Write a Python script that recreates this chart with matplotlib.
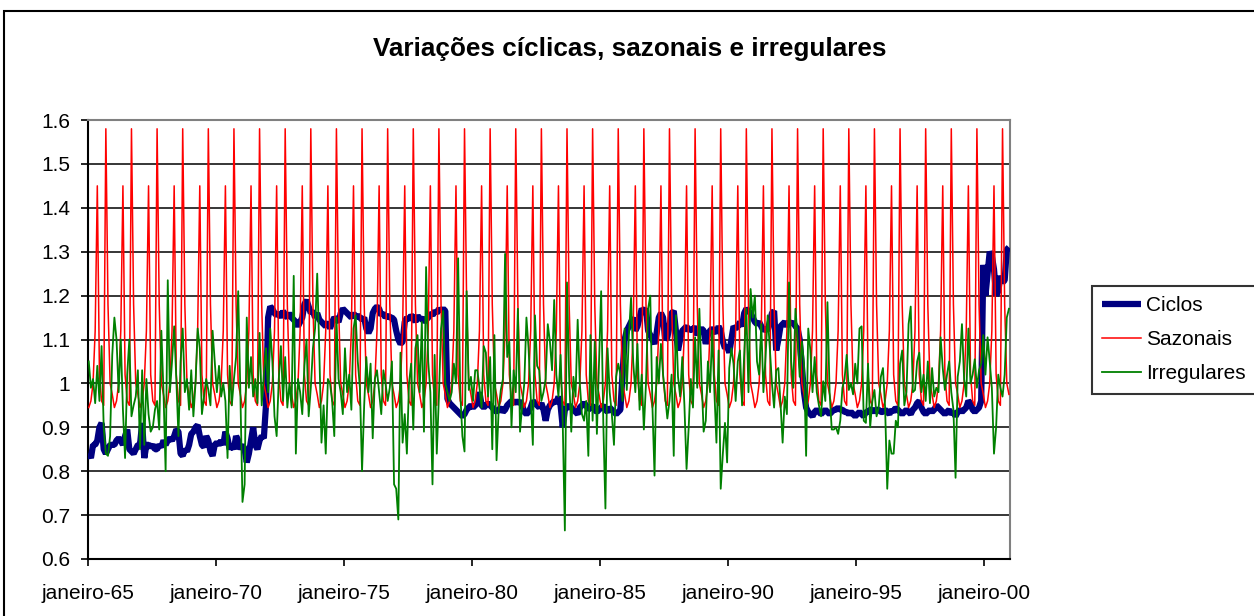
import matplotlib
matplotlib.use("Agg")
import matplotlib.pyplot as plt
import numpy as np
from matplotlib.patches import Rectangle

plt.rcParams['font.family'] = ['Liberation Sans', 'DejaVu Sans']

# rótulos do eixo x (um a cada 60 meses, jan/1965 .. dez/2000)
rotulos_x = ['janeiro-65', 'janeiro-70', 'janeiro-75', 'janeiro-80',
             'janeiro-85', 'janeiro-90', 'janeiro-95', 'janeiro-00']

# componente ciclica (um ano por linha)
ciclos = [
    0.84, 0.83, 0.86, 0.86, 0.87, 0.90, 0.91, 0.85, 0.84, 0.85, 0.86, 0.86,
    0.86, 0.87, 0.875, 0.87, 0.86, 0.88, 0.895, 0.85, 0.845, 0.84, 0.85, 0.86,
    0.86, 0.91, 0.83, 0.86, 0.86, 0.855, 0.86, 0.85, 0.85, 0.86, 0.855, 0.87,
    0.86, 0.87, 0.875, 0.87, 0.88, 0.895, 0.89, 0.84, 0.835, 0.85, 0.845, 0.86,
    0.885, 0.89, 0.90, 0.905, 0.88, 0.86, 0.855, 0.88, 0.87, 0.845, 0.835, 0.86,
    0.865, 0.86, 0.87, 0.86, 0.89, 0.875, 0.85, 0.86, 0.85, 0.88, 0.87, 0.85,
    0.86, 0.85, 0.82, 0.84, 0.87, 0.90, 0.86, 0.85, 0.87, 0.88, 0.875, 0.95,
    1.15, 1.175, 1.17, 1.16, 1.155, 1.16, 1.15, 1.165, 1.155, 1.15, 1.16, 1.15,
    1.145, 1.14, 1.13, 1.14, 1.15, 1.18, 1.19, 1.175, 1.16, 1.165, 1.15, 1.16,
    1.145, 1.14, 1.135, 1.13, 1.14, 1.125, 1.14, 1.15, 1.145, 1.14, 1.16, 1.17,
    1.165, 1.16, 1.155, 1.15, 1.16, 1.15, 1.155, 1.15, 1.145, 1.15, 1.125, 1.115,
    1.125, 1.16, 1.17, 1.175, 1.17, 1.155, 1.16, 1.15, 1.155, 1.15, 1.15, 1.145,
    1.12, 1.10, 1.09, 1.095, 1.14, 1.15, 1.145, 1.155, 1.15, 1.14, 1.155, 1.145,
    1.15, 1.14, 1.145, 1.15, 1.16, 1.155, 1.165, 1.16, 1.17, 1.165, 1.17, 1.165,
    0.965, 0.955, 0.95, 0.945, 0.94, 0.935, 0.93, 0.925, 0.93, 0.94, 0.945, 0.95,
    0.945, 0.95, 0.955, 0.98, 0.95, 0.945, 0.95, 0.955, 0.95, 0.945, 0.94, 0.935,
    0.94, 0.945, 0.935, 0.94, 0.95, 0.955, 0.96, 0.955, 0.96, 0.955, 0.96, 0.95,
    0.935, 0.93, 0.935, 0.945, 0.96, 0.955, 0.95, 0.945, 0.955, 0.94, 0.915, 0.94,
    0.95, 0.955, 0.96, 0.955, 0.97, 0.95, 0.90, 0.94, 0.945, 0.95, 0.945, 0.94,
    0.935, 0.93, 0.945, 0.95, 0.955, 0.95, 0.94, 0.945, 0.95, 0.94, 0.935, 0.94,
    0.945, 0.95, 0.94, 0.935, 0.945, 0.94, 0.935, 0.93, 0.935, 0.94, 1.02, 1.10,
    1.12, 1.13, 1.14, 1.15, 1.12, 1.13, 1.15, 1.17, 1.165, 1.17, 1.12, 1.11,
    1.10, 1.09, 1.115, 1.15, 1.16, 1.15, 1.10, 1.105, 1.13, 1.16, 1.165, 1.12,
    1.075, 1.10, 1.12, 1.125, 1.13, 1.12, 1.125, 1.12, 1.13, 1.11, 1.12, 1.125,
    1.12, 1.09, 1.11, 1.12, 1.125, 1.12, 1.115, 1.13, 1.12, 1.095, 1.08, 1.085,
    1.07, 1.10, 1.13, 1.125, 1.13, 1.14, 1.13, 1.16, 1.17, 1.165, 1.16, 1.15,
    1.14, 1.135, 1.14, 1.13, 1.12, 1.125, 1.12, 1.14, 1.16, 1.165, 1.075, 1.10,
    1.13, 1.135, 1.14, 1.13, 1.14, 1.135, 1.14, 1.13, 1.125, 1.10, 1.04, 0.98,
    0.945, 0.935, 0.93, 0.925, 0.935, 0.94, 0.935, 0.93, 0.935, 0.94, 0.935, 0.93,
    0.935, 0.94, 0.94, 0.945, 0.94, 0.94, 0.935, 0.935, 0.93, 0.935, 0.93, 0.925,
    0.93, 0.935, 0.93, 0.925, 0.935, 0.935, 0.94, 0.94, 0.935, 0.94, 0.94, 0.935,
    0.935, 0.94, 0.935, 0.93, 0.94, 0.935, 0.945, 0.94, 0.935, 0.93, 0.935, 0.94,
    0.935, 0.93, 0.94, 0.945, 0.955, 0.96, 0.945, 0.935, 0.93, 0.935, 0.94, 0.935,
    0.94, 0.95, 0.945, 0.94, 0.935, 0.93, 0.935, 0.94, 0.93, 0.935, 0.925, 0.935,
    0.94, 0.935, 0.94, 0.945, 0.96, 0.955, 0.94, 0.935, 0.94, 0.945, 0.96, 1.27,
    1.20, 1.25, 1.30, 1.29, 1.26, 1.20, 1.21, 1.245, 1.23, 1.235, 1.305, 1.31,
]

# fatores sazonais jan..dez (se repetem todo ano)
sazonal_ano = [0.945, 0.96, 1.0, 1.12, 1.45, 1.02, 0.96, 0.95, 1.58, 1.18, 1.0, 0.975]
sazonais = sazonal_ano * 36

# componente irregular
irregulares = [
    1.05, 0.99, 1.01, 0.955, 1.04, 0.96, 1.085, 0.90, 0.84, 0.835, 0.88, 1.065,
    1.15, 1.10, 0.98, 1.10, 0.94, 0.83, 1.02, 1.10, 0.925, 0.95, 0.97, 1.03,
    0.85, 1.03, 0.86, 1.01, 0.93, 0.89, 0.90, 0.94, 0.96, 0.895, 1.12, 0.98,
    0.80, 1.235, 0.98, 1.05, 1.13, 1.01, 0.88, 1.05, 1.125, 0.98, 1.01, 0.94,
    1.03, 0.925, 1.0, 1.125, 1.08, 0.93, 0.97, 1.01, 0.985, 0.95, 1.12, 1.05,
    0.98, 1.04, 0.97, 1.0, 0.96, 0.83, 1.04, 0.95, 1.01, 1.06, 1.21, 0.98,
    0.73, 0.77, 1.15, 0.99, 1.06, 0.97, 1.01, 0.955, 1.115, 0.95, 1.02, 1.08,
    0.98, 1.125, 1.05, 0.925, 0.88, 1.01, 1.085, 0.96, 1.06, 0.945, 1.0, 0.945,
    1.245, 0.84, 1.01, 0.98, 0.93, 1.04, 1.1, 0.925, 0.99, 1.08, 1.125, 1.25,
    1.07, 0.865, 0.95, 0.84, 1.01, 1.0, 0.96, 0.88, 1.15, 1.01, 0.98, 0.93,
    1.08, 0.98, 1.02, 0.94, 1.125, 1.155, 1.05, 0.99, 0.80, 0.95, 1.06, 0.98,
    1.045, 0.875, 1.01, 1.03, 0.98, 0.93, 1.03, 1.0, 0.96, 0.99, 1.05, 0.77,
    0.76, 0.69, 1.07, 0.865, 0.93, 0.84, 1.0, 1.045, 0.895, 1.08, 1.11, 0.98,
    1.14, 0.89, 1.265, 1.05, 0.98, 0.77, 1.065, 0.84, 0.97, 1.125, 1.165, 1.0,
    0.98, 0.96, 0.98, 1.045, 1.0, 1.285, 0.98, 0.88, 0.845, 1.21, 0.985, 1.015,
    0.96, 1.03, 1.03, 0.99, 0.945, 1.085, 1.07, 0.97, 1.06, 0.85, 1.11, 0.825,
    0.94, 0.985, 1.01, 1.295, 1.06, 1.095, 0.90, 1.03, 0.98, 1.17, 0.89, 0.95,
    1.0, 1.15, 1.08, 0.97, 0.86, 1.155, 1.04, 1.03, 0.96, 0.98, 1.01, 1.135,
    1.095, 1.03, 1.19, 1.02, 0.97, 1.065, 0.91, 0.665, 1.23, 1.015, 0.89, 1.015,
    0.97, 1.145, 1.0, 0.93, 0.915, 0.96, 0.835, 1.11, 0.915, 1.095, 0.885, 1.05,
    1.21, 0.91, 0.715, 1.08, 0.98, 0.93, 0.86, 1.015, 1.045, 1.02, 0.96, 1.125,
    0.985, 1.11, 1.195, 1.05, 0.98, 1.09, 0.94, 1.02, 0.895, 1.0, 1.17, 1.2,
    0.95, 0.79, 1.06, 1.0, 1.09, 1.02, 0.97, 0.92, 0.96, 1.02, 0.835, 1.155,
    1.015, 0.97, 1.06, 0.95, 0.805, 0.9, 1.01, 0.945, 1.105, 0.99, 1.17, 1.015,
    0.89, 0.915, 1.05, 0.98, 1.12, 0.985, 0.865, 1.075, 0.76, 0.84, 0.91, 0.82,
    1.035, 1.08, 1.045, 0.96, 1.05, 1.075, 0.95, 1.065, 1.17, 0.98, 1.215, 1.15,
    1.2, 1.05, 1.02, 1.135, 0.98, 1.06, 1.155, 1.08, 1.0, 0.945, 1.03, 1.035,
    0.955, 0.865, 0.97, 0.93, 1.23, 1.05, 0.99, 1.17, 1.105, 1.015, 1.095, 1.045,
    0.835, 1.125, 1.075, 0.98, 1.06, 0.98, 0.95, 0.925, 1.005, 0.96, 1.185, 0.98,
    0.895, 0.895, 0.9, 0.885, 0.915, 0.99, 1.01, 1.065, 0.985, 1.0, 0.975, 1.045,
    1.0, 1.125, 1.13, 0.915, 0.91, 1.045, 0.9, 0.96, 0.985, 0.925, 0.945, 1.015,
    1.035, 0.945, 0.76, 0.87, 0.84, 0.84, 0.915, 0.9, 1.045, 1.075, 0.95, 0.98,
    1.135, 1.175, 0.98, 0.985, 1.05, 1.07, 0.98, 1.02, 0.96, 1.05, 0.955, 1.035,
    0.97, 0.99, 0.98, 1.105, 1.035, 0.985, 1.02, 1.05, 0.98, 0.94, 0.785, 1.015,
    1.05, 1.135, 1.01, 0.97, 1.125, 1.0, 1.02, 1.055, 0.99, 1.03, 1.045, 1.11,
    1.02, 1.105, 1.05, 0.99, 0.84, 0.9, 1.02, 0.99, 0.97, 1.02, 1.15, 1.17,
]

meses = np.arange(len(ciclos)) + 0.5

fig = plt.figure(figsize=(12.54, 6.16), dpi=100, facecolor='white')
ax = fig.add_axes([87.7 / 1254, 1 - 559 / 616, (1010 - 87.7) / 1254, (559 - 120) / 616])

ax.plot(meses, ciclos, color='#000080', lw=4.5, label='Ciclos', zorder=3,
        solid_joinstyle='bevel', solid_capstyle='butt')
ax.plot(meses, sazonais, color='#FF0000', lw=1.1, label='Sazonais', zorder=4)
ax.plot(meses, irregulares, color='#008000', lw=1.3, label='Irregulares', zorder=5)

ax.set_xlim(0, len(ciclos))
ax.set_ylim(0.6, 1.6)
ax.set_xticks(np.arange(0, len(ciclos), 60))
ax.set_xticklabels(rotulos_x)
ax.set_yticks(np.arange(0.6, 1.61, 0.1))
ax.set_yticklabels(['%g' % round(v, 1) for v in np.arange(0.6, 1.61, 0.1)])
ax.tick_params(axis='both', labelsize=15, length=5, width=1.2, direction='out', color='black')
ax.tick_params(axis='x', pad=13)
ax.tick_params(axis='y', pad=7.5)

ax.grid(axis='y', color='black', lw=1.1, zorder=1)
ax.set_axisbelow(True)
ax.spines['left'].set_color('black')
ax.spines['bottom'].set_color('black')
ax.spines['left'].set_linewidth(1.5)
ax.spines['bottom'].set_linewidth(1.5)
ax.spines['top'].set_color('#808080')
ax.spines['right'].set_color('#808080')
ax.spines['top'].set_linewidth(1.5)
ax.spines['right'].set_linewidth(1.5)

fig.text(630 / 1254, 1 - 49 / 616, 'Variações cíclicas, sazonais e irregulares',
         ha='center', va='center', fontsize=18.8, fontweight='bold')

leg = fig.legend(loc='upper left', bbox_to_anchor=(1092 / 1254, 1 - 286 / 616),
                 fontsize=15, frameon=True, fancybox=False, edgecolor='black',
                 handlelength=1.85, handletextpad=0.25, labelspacing=0.72,
                 borderpad=0.5, borderaxespad=0)
leg.get_frame().set_linewidth(1.5)

# moldura externa do gráfico
fig.patches.append(Rectangle((4 / 1254, -0.05), 1.1, 1 - 11 / 616 + 0.05,
                             transform=fig.transFigure, fill=False,
                             edgecolor='black', lw=1.5))

fig.savefig('out.png', dpi=100, facecolor='white')
